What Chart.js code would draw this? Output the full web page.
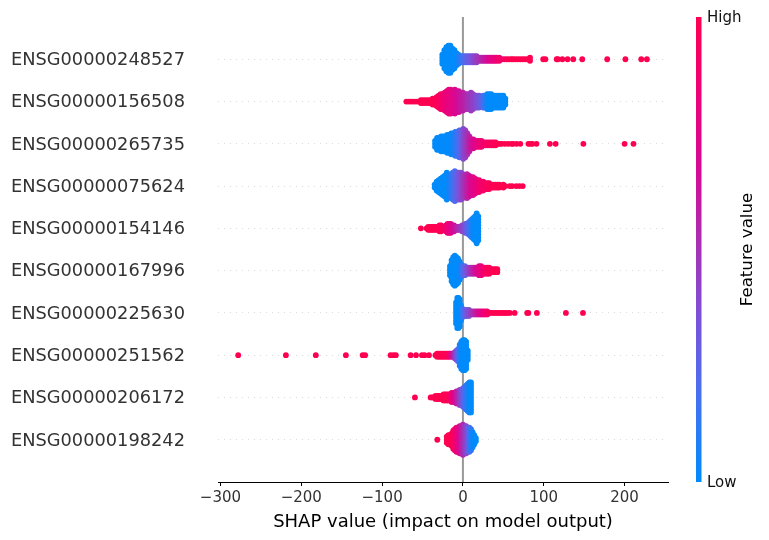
<!DOCTYPE html>
<html>
<head>
<meta charset="utf-8">
<title>SHAP summary</title>
<script src="https://cdn.jsdelivr.net/npm/chart.js@4"></script>
<style>
  html, body { margin: 0; background: #fff; }
  canvas { display: block; }
</style>
</head>
<body>
<canvas id="swarm" width="769" height="540"></canvas>
<script>
const features = ["ENSG00000248527", "ENSG00000156508", "ENSG00000265735", "ENSG00000075624", "ENSG00000154146",
  "ENSG00000167996", "ENSG00000225630", "ENSG00000251562", "ENSG00000206172", "ENSG00000198242"];
const xTicks = [-300, -200, -100, 0, 100, 200];

// each feature: shap value of a column, how many samples stack there, mean feature value (0 low, 1 high)
const shap1 = [-25.5,-23,-20.5,-18,-15.5,-13,-10.5,-8,-5.5,-3,-0.5,2,4.5,7,9.5,12,14.5,17,19.5,22,24.5,27,29.5,32,34.5,37,39.5,42,45,48,51,54,57,60,62,65,68,71,74,77,80,83,99.3,102,116,117.5,123,129.5,136.5,147.6,178.5,201,220.6,227.6];
const count1 = [4,7,9,10,10,8,7,5,4,3,3,3,3,3,3,3,3,3,2,2,2,2,2,2,2,2,2,2,2,1,1,1,1,1,1,1,1,1,1,1,1,2,1,1,1,1,1,1,1,1,1,1,1,1];
const level1 = [0,0,0,0,0,0,0,0,.05,.1,.15,.2,.25,.28,.32,.36,.4,.44,.48,.52,.56,.6,.64,.68,.72,.76,.8,.84,.88,.9,.92,.94,1,1,1,1,1,1,1,1,1,1,1,1,1,1,1,1,1,1,1,1,1,1];

const shap2 = [-70,-67,-64,-61,-58,-55,-52,-49,-46,-43,-40,-37.5,-35,-32.5,-30,-27.5,-25,-22.5,-20,-17.5,-15,-12.5,-10,-7.5,-5,-2.5,0,2.5,5,7.5,10,12.5,15,17.5,20,22.5,25,27.5,30,32.5,35,37.5,40,42.5,45,47.5,50,52.5];
const count2 = [1,1,1,1,1,1,2,2,2,2,2,3,3,4,5,6,6,7,8,9,9,8,9,8,8,7,7,6,6,6,7,6,5,5,5,4,5,5,6,6,6,5,5,5,5,5,5,3];
const level2 = [1,1,1,1,1,1,1,1,1,1,1,1,1,.97,.95,.92,.88,.85,.82,.8,.78,.75,.72,.7,.66,.62,.6,.57,.54,.5,.47,.44,.41,.37,.33,.28,.22,.12,.05,0,0,0,0,0,0,0,0,0];

const shap3 = [-34.5,-32,-29.5,-27,-24.5,-22,-19.5,-17,-14.5,-12,-9.5,-7,-4.5,-2,0.5,3,5.5,8,10.5,13,15.5,18,20.5,23,25.5,28,30.5,33,35.5,38,40.5,43,45.5,48,52,56,60,62,66.4,71,81,83.7,86,91,107.6,114.7,149,200,211];
const count3 = [3,5,5,6,6,6,7,7,8,8,9,9,10,10,11,10,8,6,4,4,3,3,3,3,2,2,2,2,2,2,2,1,1,1,1,1,1,1,1,1,1,1,1,1,1,1,1,1,1];
const level3 = [0,0,0,0,0,0,0,0,.02,.05,.1,.15,.2,.28,.38,.44,.5,.58,.64,.7,.74,.78,.82,.85,.88,.9,.92,.94,.96,.97,.98,1,1,1,1,1,1,1,1,1,1,1,1,1,1,1,1,1,1];

const shap4 = [-35,-32.5,-30,-27.5,-25,-22.5,-20,-17.5,-15,-12.5,-10,-7.5,-5,-2.5,0,2.5,5,7.5,10,12.5,15,17.5,20,22.5,25,27.5,30,32.5,35,37.5,40,42.5,45,47.5,50,52.5,58,61,66,70,74];
const count4 = [2,4,5,6,7,8,10,8,9,10,11,10,10,10,9,8,9,8,7,7,6,5,5,4,4,3,3,3,2,2,2,2,2,1,2,1,1,1,1,1,1];
const level4 = [0,0,0,0,0,0,0,.03,.08,.14,.2,.26,.32,.38,.44,.5,.56,.62,.68,.72,.76,.8,.84,.87,.9,.92,.94,.96,.97,.98,1,1,1,1,1,1,1,1,1,1,1];

const shap5 = [-52,-45,-43,-41,-39,-37,-35,-33,-31,-29,-27,-25,-23,-21,-19,-17,-15,-13,-11,-9,-7,-5,-3,-1,1,3,5,7,9,11,13,15,17,19];
const count5 = [1,1,2,2,2,2,2,2,2,3,3,2,2,3,4,4,4,3,3,2,2,2,2,3,3,4,4,5,6,7,8,9,11,9];
const level5 = [1,1,1,1,1,1,1,1,1,.98,.97,.95,.92,.88,.84,.8,.76,.7,.66,.62,.57,.52,.48,.44,.4,.34,.28,.22,.14,.08,.03,0,0,0];

const shap6 = [-16,-14,-12,-10,-8,-6,-4,-2,0,2.5,5,7.5,10,12.5,15,17.5,20,22.5,25,27.5,30,32.5,35,37.5,40,42.5];
const count6 = [4,8,10,11,10,9,7,5,4,4,3,3,3,3,3,3,4,4,3,3,3,3,2,2,2,2];
const level6 = [0,0,0,0,0,0,.02,.06,.18,.26,.34,.42,.5,.56,.62,.68,.74,.8,.85,.9,.94,.96,.98,1,1,1];

const shap7 = [-8.5,-7,-5.5,-4,-2.5,-1,1,3,5,7.5,10,12.5,15,17.5,20,22.5,25,27.5,30,32.5,35,37.5,40,42.5,45,47.5,50,52.5,55,58,64,79.5,81,91.5,127.4,148.5];
const count7 = [8,11,11,10,6,4,3,3,3,3,2,2,2,2,2,2,2,2,2,1,1,1,1,1,1,1,1,1,1,1,1,1,1,1,1,1];
const level7 = [0,0,0,0,0,.1,.18,.26,.32,.38,.44,.5,.56,.62,.68,.74,.8,.86,.9,.94,.97,1,1,1,1,1,1,1,1,1,1,1,1,1,1,1];

const shap8 = [-278,-219,-182,-144.8,-124,-121,-89.5,-86,-83,-64.7,-58,-50.7,-47.4,-42,-34,-32,-30,-28,-26,-24,-22,-20,-18,-16,-14,-12,-10,-8,-6,-4,-2,0,2,4,6];
const count8 = [1,1,1,1,1,1,1,1,1,1,1,1,1,1,1,2,2,2,2,2,2,2,2,2,2,2,3,4,5,8,10,11,11,10,4];
const level8 = [1,1,1,1,1,1,1,1,1,1,1,1,1,1,1,1,1,1,1,1,1,1,.95,.85,.72,.6,.48,.36,.22,.1,.04,0,0,0,0];

const shap9 = [-59.4,-40,-38,-36,-34,-32,-30,-28,-26,-24,-22,-20,-18,-16,-14,-12,-10,-8,-6,-4,-2,0,2,4,6,8,10];
const count9 = [1,1,1,1,2,2,2,2,2,3,3,3,3,3,4,4,4,5,5,6,6,7,8,9,10,11,11];
const level9 = [1,1,1,1,1,1,1,1,1,1,1,1,.97,.92,.86,.8,.72,.62,.54,.46,.38,.3,.22,.14,.08,.03,0];

const shap10 = [-31.7,-20,-18,-16,-14,-12,-10,-8,-6,-4,-2,0,2,4,6,8,10,12,14,16];
const count10 = [1,3,4,4,5,7,8,9,9,10,10,11,10,10,9,9,8,6,4,2];
const level10 = [1,1,1,1,1,.96,.9,.84,.78,.7,.62,.55,.48,.4,.32,.22,.12,.04,0,0];

const shapRows = [shap1, shap2, shap3, shap4, shap5, shap6, shap7, shap8, shap9, shap10];
const countRows = [count1, count2, count3, count4, count5, count6, count7, count8, count9, count10];
const levelRows = [level1, level2, level3, level4, level5, level6, level7, level8, level9, level10];

// blue to red colormap, sampled along the bar
const colorStops = [
  [0, [0, 139, 251]],
  [0.2, [75, 110, 240]],
  [0.35, [122, 82, 218]],
  [0.5, [165, 50, 180]],
  [0.67, [213, 10, 150]],
  [0.85, [240, 0, 115]],
  [1, [255, 0, 81]],
];

function levelColor(v) {
  for (let i = 1; i < colorStops.length; i++) {
    const [p1, c1] = colorStops[i];
    if (v <= p1) {
      const [p0, c0] = colorStops[i - 1];
      const t = (v - p0) / (p1 - p0);
      return `rgb(${c0.map((c, k) => Math.round(c + (c1[k] - c) * t)).join(",")})`;
    }
  }
  return "rgb(255,0,81)";
}

const stackStep = 0.071; // vertical gap between stacked samples, in row units

const datasets = features.map((name, r) => {
  const rowY = features.length - 1 - r;
  const data = [];
  const colors = [];
  shapRows[r].forEach((x, k) => {
    const n = countRows[r][k];
    for (let j = 0; j < n; j++) {
      data.push({ x, y: rowY + (j - (n - 1) / 2) * stackStep });
      colors.push(levelColor(levelRows[r][k]));
    }
  });
  return {
    label: name,
    data,
    pointBackgroundColor: colors,
    pointBorderWidth: 0,
    pointRadius: 2.9,
    pointHoverRadius: 2.9,
  };
});

const zeroLine = {
  id: "zeroLine",
  beforeDatasetsDraw(chart) {
    const { ctx, chartArea, scales } = chart;
    const x = scales.x.getPixelForValue(0);
    ctx.save();
    ctx.strokeStyle = "#999999";
    ctx.lineWidth = 2;
    ctx.beginPath();
    ctx.moveTo(x, chartArea.top);
    ctx.lineTo(x, chartArea.bottom);
    ctx.stroke();
    ctx.restore();
  },
};

const colorBar = {
  id: "colorBar",
  afterDraw(chart) {
    const { ctx, chartArea } = chart;
    const { top, bottom } = chartArea;
    const gradient = ctx.createLinearGradient(0, bottom, 0, top);
    colorStops.forEach(([p, c]) => gradient.addColorStop(p, `rgb(${c.join(",")})`));
    ctx.save();
    ctx.fillStyle = gradient;
    ctx.fillRect(696, top, 5.5, bottom - top);

    ctx.fillStyle = "#111111";
    ctx.font = "15px 'DejaVu Sans'";
    ctx.textBaseline = "middle";
    ctx.textAlign = "left";
    ctx.fillText("High", 707, top + 1);
    ctx.fillText("Low", 707, bottom + 1);

    ctx.translate(748, (top + bottom) / 2);
    ctx.rotate(-Math.PI / 2);
    ctx.textAlign = "center";
    ctx.fillStyle = "#000000";
    ctx.font = "16.6px 'DejaVu Sans'";
    ctx.fillText("Feature value", 0, 0);
    ctx.restore();
  },
};

new Chart(document.getElementById("swarm"), {
  type: "scatter",
  data: { datasets },
  plugins: [zeroLine, colorBar],
  options: {
    responsive: false,
    animation: false,
    layout: { padding: { top: 17, right: 101 } },
    plugins: { legend: { display: false }, tooltip: { enabled: false } },
    scales: {
      x: {
        min: -303,
        max: 253.7,
        afterFit(scale) { scale.height = 58; scale.paddingLeft = 0; scale.paddingRight = 0; },
        afterBuildTicks(scale) { scale.ticks = xTicks.map((value) => ({ value })); },
        grid: { drawOnChartArea: false, color: "#000000", tickLength: 4, tickColor: "#000000" },
        border: { color: "#000000", width: 1 },
        ticks: {
          color: "#333333",
          padding: 3,
          maxRotation: 0,
          font: { family: "DejaVu Sans", size: 15 },
          callback: (v) => String(v).replace("-", "\u2212"),
        },
        title: {
          display: true,
          text: "SHAP value (impact on model output)",
          color: "#000000",
          padding: { top: 2, bottom: 7 },
          font: { family: "DejaVu Sans", size: 18 },
        },
      },
      y: {
        min: -1,
        max: 10,
        afterFit(scale) { scale.width = 218; scale.paddingTop = 0; scale.paddingBottom = 0; },
        afterBuildTicks(scale) { scale.ticks = features.map((_, i) => ({ value: i })); },
        grid: { color: "#cccccc", lineWidth: 0.7, drawTicks: false },
        border: { display: false, dash: [1, 5] },
        ticks: {
          color: "#333333",
          padding: 33,
          // empty first line plus a tiny line height moves the name just under the row line
          font: { family: "DejaVu Sans", size: 17.8, lineHeight: "2.4px" },
          callback: (v) => ["", features[features.length - 1 - v]],
        },
      },
    },
  },
});
</script>
</body>
</html>
